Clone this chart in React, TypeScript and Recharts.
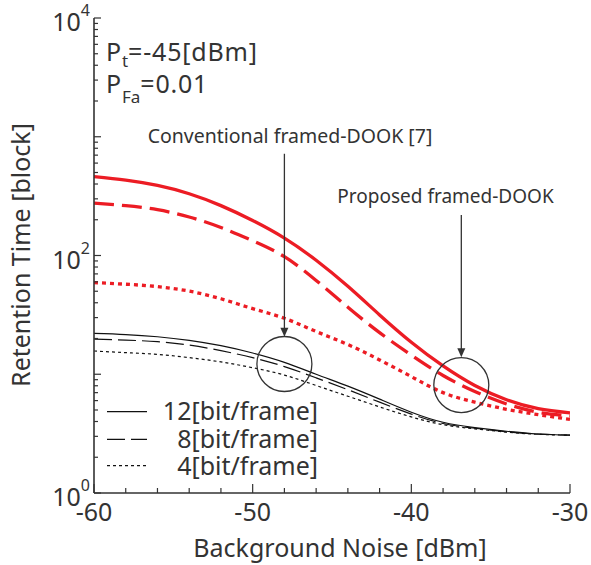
import React from 'react';
import { LineChart, Line, XAxis, YAxis, ReferenceDot, ReferenceLine } from 'recharts';

const FONT = '"Noto Sans", "DejaVu Sans", sans-serif';
const INK = '#333333';
const RED = '#ec1c24';

// Background noise [dBm]
const NOISE_DBM = [-60, -58, -56, -54, -52, -50, -48, -46, -44, -42, -40, -38, -36, -34, -32, -30];

// Proposed framed-DOOK (red)
const PROP_12 = [462, 431, 389, 331, 263, 197, 140, 91.2, 55, 31.6, 18.6, 11.75, 8.04, 6.1, 5.13, 4.73];
const PROP_8 = [276, 263, 243, 211, 172, 133, 97.7, 61.7, 36.7, 22.4, 14.5, 9.77, 7.16, 5.62, 4.79, 4.45];
const PROP_4 = [59.2, 57.3, 54.7, 50.1, 43.2, 35.7, 29.6, 22.9, 17.8, 13.2, 9.55, 7.0, 5.82, 5.07, 4.57, 4.17];

// Conventional framed-DOOK [7] (black)
const CONV_12 = [22.1, 21.6, 20.7, 19.3, 17.4, 15.1, 12.6, 10.0, 7.94, 6.17, 4.79, 3.94, 3.55, 3.31, 3.14, 3.07];
const CONV_8 = [19.8, 19.4, 18.8, 17.6, 15.8, 13.8, 11.6, 9.33, 7.41, 5.82, 4.62, 3.85, 3.51, 3.27, 3.13, 3.07];
const CONV_4 = [15.7, 15.2, 14.7, 13.8, 12.7, 11.35, 9.84, 8.04, 6.53, 5.31, 4.37, 3.76, 3.47, 3.26, 3.12, 3.07];

const X_TICKS = [-60, -58, -56, -54, -52, -50, -48, -46, -44, -42, -40, -38, -36, -34, -32, -30];
const X_MAJOR = [-60, -50, -40, -30];
const Y_TICKS = [
  1, 2, 3, 4, 5, 6, 7, 8, 9,
  10, 20, 30, 40, 50, 60, 70, 80, 90,
  100, 200, 300, 400, 500, 600, 700, 800, 900,
  1000, 2000, 3000, 4000, 5000, 6000, 7000, 8000, 9000,
  10000,
];
const Y_MAJOR = [1, 10, 100, 1000, 10000];
const Y_LABELS: Record<number, string> = { 1: '0', 100: '2', 10000: '4' };

// annotation marks (data coordinates)
const CIRCLES = [
  { x: -48, y: 12.2 },
  { x: -36.85, y: 8.1 },
];
const ARROWS = [
  { x: -48, from: 719, to: 20.7 },
  { x: -36.85, from: 219, to: 13.9 },
];

const data = NOISE_DBM.map((x, i) => ({
  x,
  p12: PROP_12[i],
  p8: PROP_8[i],
  p4: PROP_4[i],
  c12: CONV_12[i],
  c8: CONV_8[i],
  c4: CONV_4[i],
}));

const BottomTick = (props: any) => {
  const { x, y, payload } = props;
  const major = X_MAJOR.includes(payload.value);
  const len = major ? 9 : 5;
  return (
    <g>
      <line x1={x} y1={y} x2={x} y2={y - len} stroke={INK} strokeWidth={1.2} />
      {major && (
        <text x={x} y={y + 28} textAnchor="middle" fontFamily={FONT} fontSize={25} fill={INK}>
          {payload.value}
        </text>
      )}
    </g>
  );
};

const TopTick = (props: any) => {
  const { x, y, payload } = props;
  const major = X_MAJOR.includes(payload.value);
  const len = major ? 8 : 4;
  return <line x1={x} y1={y} x2={x} y2={y + len} stroke={INK} strokeWidth={1.2} />;
};

const LeftTick = (props: any) => {
  const { x, y, payload } = props;
  const v = payload.value;
  const major = Y_MAJOR.includes(v);
  const len = major ? 7 : 4;
  const exp = Y_LABELS[v];
  return (
    <g>
      <line x1={x} y1={y} x2={x + len} y2={y} stroke={INK} strokeWidth={1.2} />
      {exp !== undefined && (
        <text x={x - 4} y={y + 13} textAnchor="end" fontFamily={FONT} fontSize={25} fill={INK}>
          10
          <tspan dy={-15} fontSize={16}>
            {exp}
          </tspan>
        </text>
      )}
    </g>
  );
};

const RightTick = (props: any) => {
  const { x, y, payload } = props;
  const major = Y_MAJOR.includes(payload.value);
  const len = major ? 7 : 4;
  return <line x1={x} y1={y} x2={x - len} y2={y} stroke={INK} strokeWidth={1.2} />;
};

const ArrowShape = (props: any) => {
  const { x1, y1, x2, y2 } = props;
  const top = Math.min(y1, y2);
  const tip = Math.max(y1, y2);
  return (
    <g>
      <line x1={x1} y1={top} x2={x2} y2={tip - 8} stroke={INK} strokeWidth={1.3} />
      <polygon points={`${x2},${tip} ${x2 - 4},${tip - 9} ${x2 + 4},${tip - 9}`} fill={INK} />
    </g>
  );
};

export default function App() {
  const textStyle = { fontFamily: FONT, fill: INK } as const;
  return (
    <div style={{ position: 'absolute', left: 0, top: 0, width: 591, height: 565, background: '#fff' }}>
      <LineChart
        width={591}
        height={565}
        data={data}
        margin={{ top: 18, right: 21, bottom: 0, left: 0 }}
      >
        <XAxis
          dataKey="x"
          type="number"
          domain={[-60, -30]}
          ticks={X_TICKS}
          interval={0}
          height={72}
          tickSize={0}
          tickMargin={0}
          tickLine={false}
          tick={<BottomTick />}
          axisLine={{ stroke: INK, strokeWidth: 1.6 }}
          allowDataOverflow
        />
        <XAxis
          xAxisId="top"
          orientation="top"
          dataKey="x"
          type="number"
          domain={[-60, -30]}
          ticks={X_TICKS}
          interval={0}
          height={0}
          tickSize={0}
          tickMargin={0}
          tickLine={false}
          tick={<TopTick />}
          axisLine={{ stroke: INK, strokeWidth: 1.6 }}
          allowDataOverflow
        />
        <YAxis
          type="number"
          scale="log"
          domain={[1, 10000]}
          ticks={Y_TICKS}
          interval={0}
          width={94}
          tickSize={0}
          tickMargin={0}
          tickLine={false}
          tick={<LeftTick />}
          axisLine={{ stroke: INK, strokeWidth: 1.6 }}
          allowDataOverflow
        />
        <YAxis
          yAxisId="right"
          orientation="right"
          type="number"
          scale="log"
          domain={[1, 10000]}
          ticks={Y_TICKS}
          interval={0}
          width={0}
          tickSize={0}
          tickMargin={0}
          tickLine={false}
          tick={<RightTick />}
          axisLine={{ stroke: INK, strokeWidth: 1.6 }}
          allowDataOverflow
        />

        <Line dataKey="c12" type="natural" stroke="#111" strokeWidth={1.2} dot={false} isAnimationActive={false} />
        <Line dataKey="c8" type="natural" stroke="#111" strokeWidth={1.2} strokeDasharray="18 6" dot={false} isAnimationActive={false} />
        <Line dataKey="c4" type="natural" stroke="#111" strokeWidth={1.2} strokeDasharray="3 3" dot={false} isAnimationActive={false} />
        <Line dataKey="p4" type="natural" stroke={RED} strokeWidth={3.3} strokeDasharray="4 4" dot={false} isAnimationActive={false} />
        <Line dataKey="p8" type="natural" stroke={RED} strokeWidth={3.3} strokeDasharray="20 8" dot={false} isAnimationActive={false} />
        <Line dataKey="p12" type="natural" stroke={RED} strokeWidth={3.3} dot={false} isAnimationActive={false} />

        {CIRCLES.map((c, i) => (
          <ReferenceDot key={'c' + i} x={c.x} y={c.y} r={27.5} fill="none" stroke={INK} strokeWidth={1.3} />
        ))}
        {ARROWS.map((a, i) => (
          <ReferenceLine
            key={'a' + i}
            segment={[
              { x: a.x, y: a.from },
              { x: a.x, y: a.to },
            ]}
            stroke={INK}
            shape={ArrowShape}
          />
        ))}
      </LineChart>

      <svg
        width={591}
        height={565}
        style={{ position: 'absolute', left: 0, top: 0, pointerEvents: 'none' }}
      >
        {/* parameters */}
        <text x={106} y={60.5} fontSize={25} letterSpacing={0.8} {...textStyle}>
          P<tspan dy={6.5} fontSize={17} letterSpacing={0}>t</tspan>
          <tspan dy={-6.5}>=-45[dBm]</tspan>
        </text>
        <text x={106} y={93} fontSize={25} letterSpacing={0.8} {...textStyle}>
          P<tspan dy={10} fontSize={17} letterSpacing={0}>Fa</tspan>
          <tspan dy={-10}>=0.01</tspan>
        </text>

        {/* annotation labels */}
        <text x={290} y={143} textAnchor="middle" fontSize={19.5} {...textStyle}>
          Conventional framed-DOOK [7]
        </text>
        <text x={445.5} y={203} textAnchor="middle" fontSize={19} {...textStyle}>
          Proposed framed-DOOK
        </text>

        {/* legend */}
        <line x1={107} y1={411.7} x2={147} y2={411.7} stroke="#111" strokeWidth={1.2} />
        <line x1={107} y1={439.3} x2={147} y2={439.3} stroke="#111" strokeWidth={1.2} strokeDasharray="18 6" />
        <line x1={107} y1={465.7} x2={147} y2={465.7} stroke="#111" strokeWidth={1.2} strokeDasharray="3 3" />
        <text x={318} y={420} textAnchor="end" fontSize={25} {...textStyle}>12[bit/frame]</text>
        <text x={318} y={448} textAnchor="end" fontSize={25} {...textStyle}>8[bit/frame]</text>
        <text x={318} y={475} textAnchor="end" fontSize={25} {...textStyle}>4[bit/frame]</text>

        {/* axis titles */}
        <text x={340} y={557} textAnchor="middle" fontSize={25} {...textStyle}>
          Background Noise [dBm]
        </text>
        <text
          x={30}
          y={255}
          textAnchor="middle"
          fontSize={25}
          transform="rotate(-90 30 255)"
          {...textStyle}
        >
          Retention Time [block]
        </text>
      </svg>
    </div>
  );
}
